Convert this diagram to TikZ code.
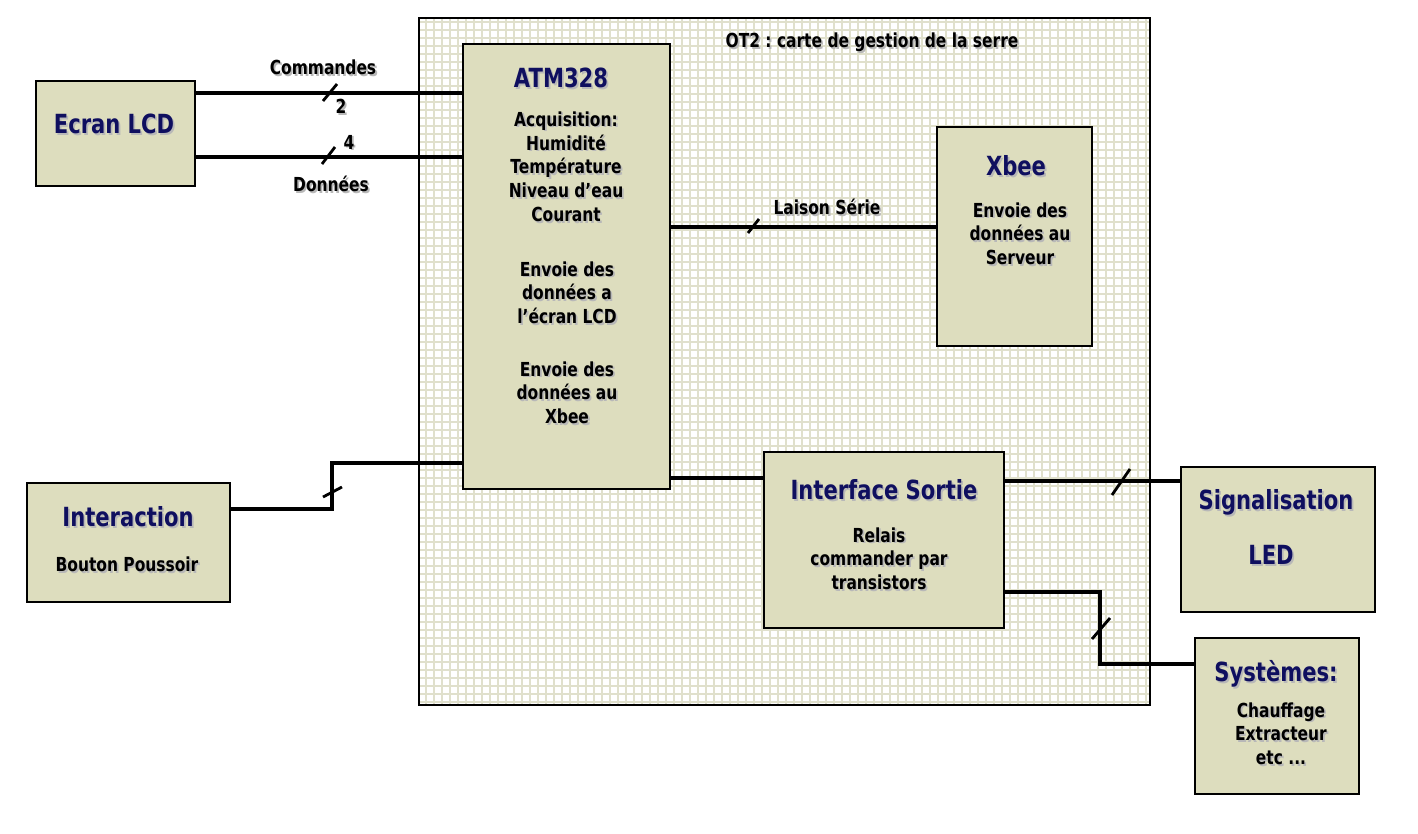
\documentclass[tikz,border=0pt]{standalone}
\usepackage{fontspec}
\setmainfont{DejaVu Sans}[FakeStretch=0.8]
\frenchspacing
\usetikzlibrary{fit}
\definecolor{fondbloc}{RGB}{221,221,190}
\definecolor{grille}{RGB}{224,224,204}
\definecolor{titre}{RGB}{15,15,95}
% texte avec ombre portee
\newcommand\ombre[1]{\leavevmode\rlap{\kern1pt\raisebox{-1pt}{\textcolor{black!28}{#1}}}#1}
\newcommand\lignes[1]{\ombre{\begin{tabular}{@{}c@{}}#1\end{tabular}}}
\tikzset{
  bloc/.style={draw, line width=1.2pt, fill=fondbloc, inner sep=0pt},
  fil/.style={line width=2pt},
  barre/.style={line width=1.6pt},
  titrebloc/.style={text=titre, font=\fontsize{15}{18}\selectfont\bfseries, inner sep=0pt},
  texte/.style={font=\fontsize{11}{13.6}\selectfont\bfseries, inner sep=0pt}
}
\begin{document}
\begin{tikzpicture}[x=0.02cm,y=-0.02cm]
      \useasboundingbox (0,0) rectangle (1418,833);
      % la carte OT2 : fond quadrille
      \foreach \gx in {426,434,...,1146}
        \draw[grille, line width=0.6pt] (\gx,18) -- (\gx,705);
      \foreach \gy in {22,30,...,702}
        \draw[grille, line width=0.6pt] (419,\gy) -- (1150,\gy);
      \node[draw, line width=1.2pt, inner sep=0pt, fit={(419,18) (1150,705)}] (carte) {};
      \node[texte] (lcarte) at (872,43) {\ombre{OT2 : carte de gestion de la serre}};
      %% les blocs
      \node[bloc, fit={(36,81) (195,186)}] (lcd) {};
      \node[bloc, fit={(463,44) (670,489)}] (atm) {};
      \node[bloc, fit={(937,127) (1092,346)}] (xbee) {};
      \node[bloc, fit={(27,483) (230,602)}] (inter) {};
      \node[bloc, fit={(764,452) (1004,628)}] (sortie) {};
      \node[bloc, fit={(1181,467) (1375,612)}] (signal) {};
      \node[bloc, fit={(1195,638) (1359,794)}] (syst) {};
      %% les liaisons
      \draw[fil] (lcd.east |- 0,93) -- (atm.west |- 0,93);
      \draw[fil] (lcd.east |- 0,157) -- (atm.west |- 0,157);
      \draw[fil] (atm.east |- 0,227) -- (xbee.west |- 0,227);
      \draw[fil] (inter.east |- 0,509) -| (332,463) -- (atm.west |- 0,463);
      \draw[fil] (atm.east |- 0,478) -- (sortie.west |- 0,478);
      \draw[fil] (sortie.east |- 0,481) -- (signal.west |- 0,481);
      \draw[fil] (sortie.east |- 0,592) -| (1100,664) -- (syst.west |- 0,664);
      % les barres de bus
      \draw[barre] (323,101) -- (337,84);
      \draw[barre] (322,164) -- (335,147);
      \draw[barre] (748,233) -- (759,219);
      \draw[barre] (323,497) -- (342,487);
      \draw[barre] (1112,495) -- (1130,469);
      \draw[barre] (1092,639) -- (1110,618);
      \node[texte] (lcmd) at (323,68) {\ombre{Commandes}};
      \node[texte] (ncmd) at (341,107) {\ombre{2}};
      \node[texte] (ndon) at (349,143) {\ombre{4}};
      \node[texte] (ldon) at (331,185) {\ombre{Données}};
      \node[texte] (lser) at (827,208) {\ombre{Laison Série}};
      %% les textes des blocs
      \node[titrebloc] (tlcd) at (114,125) {\ombre{Ecran LCD}};
      \node[titrebloc] (tatm) at (561,79) {\ombre{ATM328}};
      \node[texte] (acq) at (566,170) {\lignes{Acquisition:\\Humidité\\Température\\Niveau d'eau\\Courant}};
      \node[texte] (envlcd) at (567,296) {\lignes{Envoie des\\données a\\l'écran LCD}};
      \node[texte] (envxb) at (567,396) {\lignes{Envoie des\\données au\\Xbee}};
      \node[titrebloc] (txbee) at (1016,167) {\ombre{Xbee}};
      \node[texte] (envserv) at (1020,237) {\lignes{Envoie des\\données au\\Serveur}};
      \node[titrebloc] (tinter) at (128,518) {\ombre{Interaction}};
      \node[texte] (bp) at (127,565) {\ombre{Bouton Poussoir}};
      \node[titrebloc] (tsortie) at (884,491) {\ombre{Interface Sortie}};
      \node[texte] (relais) at (879,562) {\lignes{Relais\\commander par\\transistors}};
      \node[titrebloc] (tsignal) at (1276,503) {\ombre{Signalisation}};
      \node[titrebloc] (tled) at (1271,556) {\ombre{LED}};
      \node[titrebloc] (tsyst) at (1276,675) {\ombre{Systèmes:}};
      \node[texte] (chauf) at (1281,737) {\lignes{Chauffage\\Extracteur\\etc ...}};
\end{tikzpicture}
\end{document}
